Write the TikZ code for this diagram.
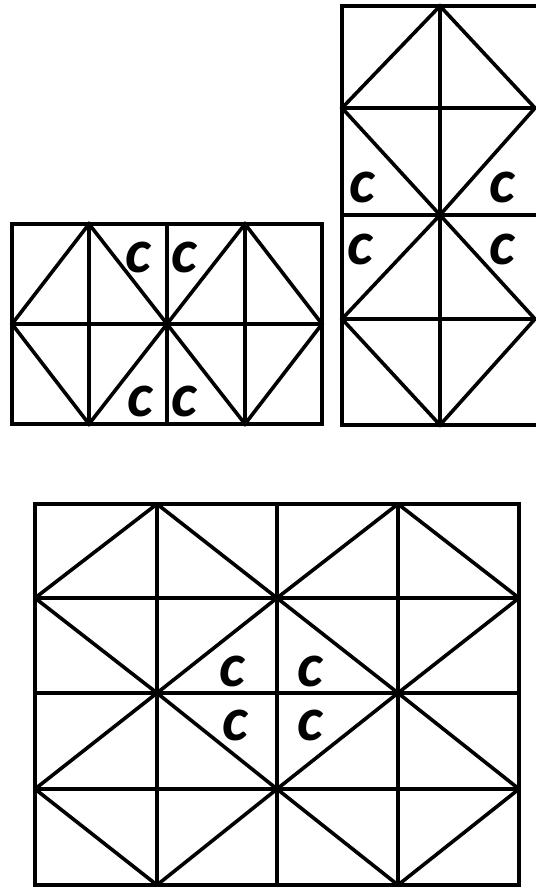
\documentclass[tikz,border=0pt]{standalone}
\usepackage{fontspec}
\setmainfont{Carlito}
\tikzset{
  grid/.style={line width=3.6pt, line join=miter},
  lab/.style={inner sep=0pt, font=\fontsize{62}{62}\selectfont\bfseries\itshape}
}

\begin{document}
\begin{tikzpicture}[x=1pt, y=-1pt]
    \useasboundingbox (0,0) rectangle (535,890);
    % left figure: 4 x 2 cells
    \draw [grid] (12,224) rectangle (322,424);
    \foreach \x in {89,167,245}
        \draw [grid] (\x,224) -- (\x,424);
    \draw [grid] (12,324) -- (322,324);
    \draw [grid] (89,224) -- (167,324) -- (89,424) -- (12,324) -- cycle;
    \draw [grid] (245,224) -- (322,324) -- (245,424) -- (167,324) -- cycle;
    \node [lab] (lc1) at (138,257) {c};
    \node [lab] (lc2) at (184,257) {c};
    \node [lab] (lc3) at (140,401) {c};
    \node [lab] (lc4) at (184,401) {c};
    % right figure: 2 x 4 cells
    \draw [grid] (342,6) rectangle (538,425);
    \draw [grid] (440,6) -- (440,425);
    \foreach \y in {108,215,319}
        \draw [grid] (342,\y) -- (538,\y);
    \draw [grid] (440,6) -- (535,108) -- (440,215) -- (342,108) -- cycle;
    \draw [grid] (440,215) -- (535,319) -- (440,425) -- (342,319) -- cycle;
    \node [lab] (rc1) at (362,187) {c};
    \node [lab] (rc2) at (502,187) {c};
    \node [lab] (rc3) at (360,249) {c};
    \node [lab] (rc4) at (502,249) {c};
    % bottom figure: 4 x 4 cells
    \draw [grid] (35,504) rectangle (519,885);
    \foreach \x in {157,277,398}
        \draw [grid] (\x,504) -- (\x,885);
    \foreach \y in {598,693,789}
        \draw [grid] (35,\y) -- (519,\y);
    \draw [grid] (157,504) -- (277,598) -- (398,693) -- (519,789);
    \draw [grid] (35,598) -- (157,693) -- (277,789) -- (398,885);
    \draw [grid] (398,504) -- (519,598);
    \draw [grid] (35,789) -- (157,885);
    \draw [grid] (35,598) -- (157,504);
    \draw [grid] (35,789) -- (157,693) -- (277,598) -- (398,504);
    \draw [grid] (157,885) -- (277,789) -- (398,693) -- (519,598);
    \draw [grid] (398,885) -- (519,789);
    \node [lab] (bc1) at (232,671) {c};
    \node [lab] (bc2) at (310,671) {c};
    \node [lab] (bc3) at (235,725) {c};
    \node [lab] (bc4) at (310,725) {c};
\end{tikzpicture}
\end{document}
